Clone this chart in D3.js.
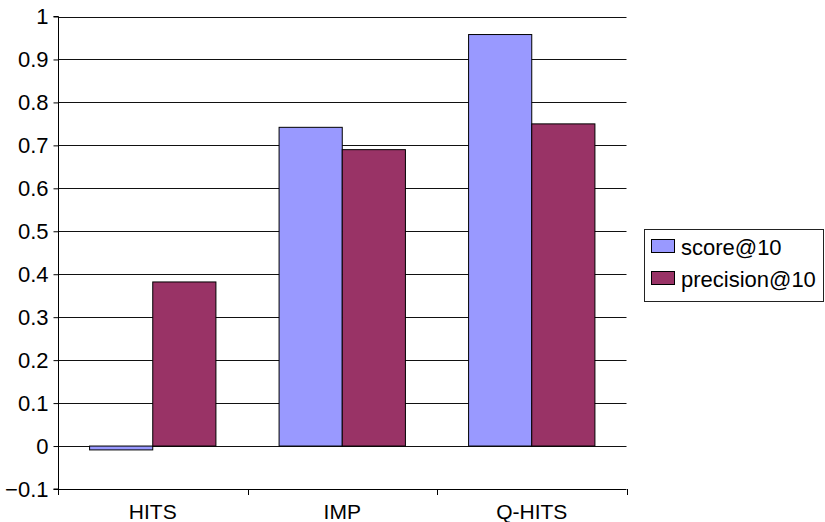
<!DOCTYPE html>
<html>
<head>
<meta charset="utf-8">
<script src="https://cdn.jsdelivr.net/npm/d3@7"></script>
<style>
  html, body { margin: 0; padding: 0; background: #fff; }
  svg { display: block; font-family: "Liberation Sans", Arial, sans-serif; }
  .lbl { font-family: "Liberation Sans", Arial, sans-serif; font-size: 22px; fill: #000; }
  .cat { font-size: 21px; }
</style>
</head>
<body>
<svg id="chart" width="825" height="522"></svg>
<script>
// Ranking methods compared
const categories = ["HITS", "IMP", "Q-HITS"];
const seriesNames = ["score@10", "precision@10"];
const scoreValues = [-0.009, 0.742, 0.958];
const precisionValues = [0.382, 0.690, 0.750];
const yTicks = [-0.1, 0, 0.1, 0.2, 0.3, 0.4, 0.5, 0.6, 0.7, 0.8, 0.9, 1];
const colors = ["#9999FF", "#993366"];

(function () {
  const svg = d3.select("#chart");
  const plotLeft = 58, plotRight = 626.5, plotTop = 16.5, plotBottom = 489;

  const y = d3.scaleLinear().domain([-0.1, 1]).range([plotBottom, plotTop]);
  const x = d3.scaleBand().domain(categories).range([plotLeft, plotRight]).paddingInner(0).paddingOuter(0);
  const xSub = d3.scaleBand().domain(seriesNames).range([0, x.bandwidth()]).paddingInner(0).paddingOuter(0.5);

  // Horizontal gridlines
  svg.append("g").selectAll("line").data(yTicks.filter(t => t > -0.1)).join("line")
    .attr("x1", plotLeft).attr("x2", plotRight)
    .attr("y1", d => Math.round(y(d)) + 0.5).attr("y2", d => Math.round(y(d)) + 0.5)
    .attr("stroke", "#111").attr("stroke-width", 1);

  // Bars
  const rows = categories.map((c, i) => ({ cat: c, vals: [scoreValues[i], precisionValues[i]] }));
  svg.append("g").selectAll("g").data(rows).join("g")
    .attr("transform", d => `translate(${x(d.cat)},0)`)
    .selectAll("rect").data(d => d.vals.map((v, j) => ({ v, s: seriesNames[j], j })))
    .join("rect")
    .attr("x", d => xSub(d.s))
    .attr("width", xSub.bandwidth())
    .attr("y", d => y(Math.max(0, d.v)))
    .attr("height", d => Math.abs(y(d.v) - y(0)))
    .attr("fill", d => colors[d.j])
    .attr("stroke", "#000").attr("stroke-width", 1);

  // Y axis
  const yAxis = d3.axisLeft(y).tickValues(yTicks).tickSize(5).tickPadding(5)
    .tickFormat(d => d3.format("")(+d.toFixed(1)));
  const gy = svg.append("g").attr("transform", `translate(${plotLeft + 0.5},0)`).call(yAxis)
    .attr("font-size", null).attr("font-family", null);
  gy.select(".domain").attr("stroke", "#000").attr("d", `M-5,${plotTop}H0V${plotBottom}H-5`);
  gy.selectAll(".tick line").attr("stroke", "#000");
  gy.selectAll(".tick text").attr("class", "lbl").attr("fill", "#000");

  // X axis at the bottom of the plot
  const xBoundaries = [plotLeft, plotLeft + x.bandwidth(), plotLeft + 2 * x.bandwidth(), plotRight];
  const gx = svg.append("g");
  gx.append("line").attr("x1", plotLeft).attr("x2", plotRight)
    .attr("y1", plotBottom + 0.5).attr("y2", plotBottom + 0.5).attr("stroke", "#000");
  gx.selectAll("line.tick").data(xBoundaries).join("line").attr("class", "tick")
    .attr("x1", d => Math.round(d) + 0.5).attr("x2", d => Math.round(d) + 0.5)
    .attr("y1", plotBottom).attr("y2", plotBottom + 6).attr("stroke", "#000");
  gx.selectAll("text").data(categories).join("text")
    .attr("class", "lbl cat")
    .attr("x", d => x(d) + x.bandwidth() / 2)
    .attr("y", 518.5)
    .attr("text-anchor", "middle")
    .text(d => d);

  // Legend
  const legend = svg.append("g");
  legend.append("rect").attr("x", 644.5).attr("y", 229.5).attr("width", 179).attr("height", 72)
    .attr("fill", "#fff").attr("stroke", "#222").attr("stroke-width", 1);
  const items = legend.selectAll("g").data(seriesNames).join("g")
    .attr("transform", (d, i) => `translate(0,${i * 32})`);
  items.append("rect").attr("x", 651.5).attr("y", 239.5).attr("width", 23).attr("height", 13)
    .attr("fill", (d, i) => colors[i]).attr("stroke", "#000");
  items.append("text").attr("class", "lbl").attr("x", 681).attr("y", 255)
    .text(d => d);
})();
</script>
</body>
</html>
